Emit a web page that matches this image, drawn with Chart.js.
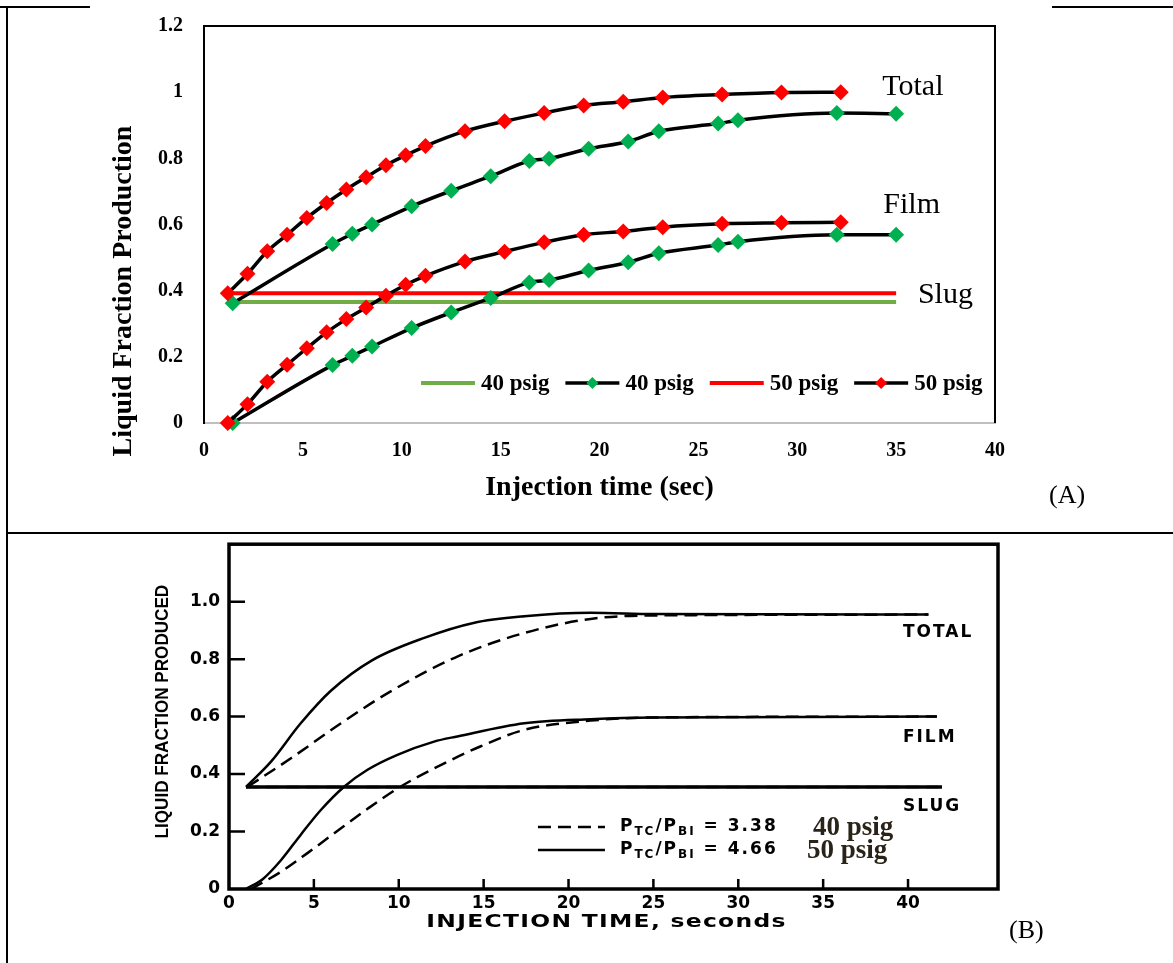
<!DOCTYPE html>
<html>
<head>
<meta charset="utf-8">
<script src="https://cdn.jsdelivr.net/npm/chart.js@4.4.1/dist/chart.umd.min.js"></script>
<style>
  body { margin: 0; background: #fff; }
  #page { position: relative; width: 1173px; height: 963px; overflow: hidden; font-family: 'Liberation Serif', 'Times New Roman', serif; }
  .rule { position: absolute; background: #000; }
  canvas { position: absolute; left: 0; }
  #chartA { top: 0; }
  #chartB { top: 534px; }
  .tag { position: absolute; font-size: 26px; line-height: 26px; color: #000; }
</style>
</head>
<body>
<div id="page">
  <div class="rule" style="left:6px;top:6px;width:2px;height:957px"></div>
  <div class="rule" style="left:0;top:6px;width:90px;height:2px"></div>
  <div class="rule" style="left:1052px;top:6px;width:121px;height:2px"></div>
  <div class="rule" style="left:6px;top:532px;width:1167px;height:2px"></div>
  <canvas id="chartA" width="1173" height="530"></canvas>
  <canvas id="chartB" width="1173" height="429"></canvas>
  <div class="tag" style="left:1049px;top:482px">(A)</div>
  <div class="tag" style="left:1009px;top:917px">(B)</div>
</div>

<script>
// ---------- panel A: replotted measurements ----------
const xTicksA = [0, 5, 10, 15, 20, 25, 30, 35, 40];
const yTicksA = [0, 0.2, 0.4, 0.6, 0.8, 1, 1.2];

// 50 psig
const redTime  = [1.2, 2.2, 3.2, 4.2, 5.2, 6.2, 7.2, 8.2, 9.2, 10.2, 11.2, 13.2, 15.2, 17.2, 19.2, 21.2, 23.2, 26.2, 29.2, 32.2];
const redTotal = [0.392, 0.451, 0.519, 0.569, 0.620, 0.665, 0.706, 0.743, 0.779, 0.809, 0.837, 0.882, 0.912, 0.937, 0.960, 0.971, 0.984, 0.993, 0.999, 1.0];
const redFilm  = [0, 0.057, 0.125, 0.176, 0.226, 0.274, 0.314, 0.349, 0.385, 0.418, 0.445, 0.488, 0.518, 0.546, 0.569, 0.579, 0.592, 0.602, 0.605, 0.607];
const redSlugTime = [1.2, 35];
const redSlug     = [0.392, 0.392];

// 40 psig
const greenTime  = [1.45, 6.5, 7.5, 8.5, 10.5, 12.5, 14.5, 16.45, 17.45, 19.45, 21.45, 23, 26, 27, 32, 35];
const greenTotal = [0.362, 0.541, 0.572, 0.600, 0.655, 0.702, 0.746, 0.792, 0.799, 0.829, 0.851, 0.882, 0.905, 0.915, 0.937, 0.935];
const greenFilm  = [0, 0.175, 0.203, 0.231, 0.287, 0.334, 0.378, 0.425, 0.432, 0.461, 0.486, 0.513, 0.538, 0.548, 0.569, 0.569];
const greenSlugTime = [1.45, 35];
const greenSlug     = [0.366, 0.366];

// ---------- panel B: original published curves ----------
const xTicksB = [0, 5, 10, 15, 20, 25, 30, 35, 40];
const yTicksB = [0, 0.2, 0.4, 0.6, 0.8, 1.0];

const total50Time = [1, 2.5, 4.2, 6, 8.4, 11.5, 14.4, 17.4, 21.3, 25, 41.2];
const total50     = [0.355, 0.445, 0.575, 0.69, 0.795, 0.874, 0.926, 0.949, 0.961, 0.957, 0.955];
const total40Time = [1.1, 3.65, 6.6, 9.5, 13.45, 17.4, 21.3, 25, 41.2];
const total40     = [0.356, 0.455, 0.577, 0.687, 0.809, 0.891, 0.94, 0.952, 0.955];
const film50Time  = [1, 2, 3.06, 4.24, 5.41, 6.78, 8.16, 9.92, 12.08, 13.45, 17.4, 21.3, 25, 41.7];
const film50      = [0, 0.035, 0.10, 0.19, 0.275, 0.356, 0.415, 0.467, 0.513, 0.531, 0.577, 0.591, 0.597, 0.60];
const film40Time  = [1.3, 3.06, 4.6, 6.2, 8.16, 10.1, 12.5, 14.8, 17.4, 21.3, 25, 41.7];
const film40      = [0, 0.06, 0.124, 0.194, 0.279, 0.356, 0.432, 0.496, 0.554, 0.586, 0.597, 0.60];
const slugTime = [1, 42];
const slugB    = [0.355, 0.355];

const GREEN = '#00B050';
const RED = '#FF0000';
const SLUG_GREEN = '#70AD47';
const serif = "'Liberation Serif', 'Times New Roman', serif";
const sans = "'DejaVu Sans', sans-serif";

const pts = (xs, ys) => xs.map((x, i) => ({ x, y: ys[i] }));

function markerSeries(label, xs, ys, color) {
    return {
        label, data: pts(xs, ys),
        borderColor: '#000', borderWidth: 3.5,
        pointStyle: 'rectRot', pointRadius: 8,
        pointBackgroundColor: color, pointBorderColor: color, pointBorderWidth: 0,
        cubicInterpolationMode: 'monotone', clip: false
    };
}

function plainLine(label, xs, ys, color) {
    return { label, data: pts(xs, ys), borderColor: color, borderWidth: 4, pointRadius: 0, clip: false };
}

function diamond(ctx, x, y, r, color) {
    ctx.fillStyle = color;
    ctx.beginPath();
    ctx.moveTo(x - r, y); ctx.lineTo(x, y - r); ctx.lineTo(x + r, y); ctx.lineTo(x, y + r);
    ctx.closePath();
    ctx.fill();
}

// box edges, rotated y title, curve names and the in-plot legend
const panelAExtras = {
    id: 'panelAExtras',
    afterDraw(chart) {
        const { ctx, chartArea: a, scales: { x, y } } = chart;
        ctx.save();
        ctx.strokeStyle = '#000';
        ctx.lineWidth = 2;
        ctx.beginPath();
        ctx.moveTo(a.left, a.top); ctx.lineTo(a.right, a.top); ctx.lineTo(a.right, a.bottom);
        ctx.stroke();

        ctx.fillStyle = '#000';
        ctx.save();
        ctx.font = `bold 28px ${serif}`;
        ctx.textAlign = 'center';
        ctx.textBaseline = 'middle';
        ctx.translate(a.left - 80, a.top + 265);
        ctx.rotate(-Math.PI / 2);
        ctx.fillText('Liquid Fraction Production', 0, 0);
        ctx.restore();

        ctx.font = `30px ${serif}`;
        ctx.textAlign = 'left';
        ctx.textBaseline = 'alphabetic';
        [['Total', 34.3, 0.99], ['Film', 34.35, 0.636], ['Slug', 36.1, 0.364]].forEach(([t, vx, vy]) => {
            ctx.fillText(t, x.getPixelForValue(vx), y.getPixelForValue(vy));
        });

        // legend: 40 psig slug, 40 psig curve, 50 psig slug, 50 psig curve
        const items = [[5, '40 psig'], [3, '40 psig'], [4, '50 psig'], [1, '50 psig']];
        let cx = a.left + 217;
        const cy = a.bottom - 40;
        ctx.font = `bold 23px ${serif}`;
        ctx.textBaseline = 'middle';
        items.forEach(([i, text]) => {
            const ds = chart.data.datasets[i];
            ctx.strokeStyle = ds.borderColor;
            ctx.lineWidth = ds.borderWidth;
            ctx.beginPath();
            ctx.moveTo(cx, cy); ctx.lineTo(cx + 54, cy);
            ctx.stroke();
            if (ds.pointRadius) diamond(ctx, cx + 27, cy, 6, ds.pointBackgroundColor);
            ctx.fillStyle = '#000';
            ctx.fillText(text, cx + 60, cy + 1);
            cx += 60 + ctx.measureText(text).width + 16;
        });
        ctx.restore();
    }
};

new Chart(document.getElementById('chartA'), {
    type: 'line',
    data: {
        datasets: [
            markerSeries('50 psig film', redTime, redFilm, RED),
            markerSeries('50 psig total', redTime, redTotal, RED),
            markerSeries('40 psig film', greenTime, greenFilm, GREEN),
            markerSeries('40 psig total', greenTime, greenTotal, GREEN),
            plainLine('50 psig slug', redSlugTime, redSlug, RED),
            plainLine('40 psig slug', greenSlugTime, greenSlug, SLUG_GREEN)
        ]
    },
    options: {
        responsive: false,
        animation: false,
        events: [],
        layout: { padding: { top: 26, right: 178, left: 0, bottom: 0 } },
        plugins: { legend: { display: false }, tooltip: { enabled: false } },
        scales: {
            x: {
                type: 'linear', min: 0, max: 40,
                afterBuildTicks: s => { s.ticks = xTicksA.map(v => ({ value: v })); },
                afterFit: s => { s.height = 107; },
                grid: { display: true, drawOnChartArea: false, drawTicks: false },
                border: { color: '#BFBFBF', width: 2 },
                ticks: { color: '#000', padding: 16, maxRotation: 0, autoSkip: false,
                         font: { family: serif, size: 20, weight: 'bold' } },
                title: { display: true, text: 'Injection time (sec)', color: '#000',
                         font: { family: serif, size: 28, weight: 'bold' }, padding: { top: 0, bottom: 25 } }
            },
            y: {
                type: 'linear', min: 0, max: 1.2,
                afterBuildTicks: s => { s.ticks = yTicksA.map(v => ({ value: v })); },
                afterFit: s => { s.width = 204; },
                // invisible tick marks hold the labels away from the axis
                grid: { display: true, drawOnChartArea: false, drawTicks: true, tickLength: 21, tickColor: 'rgba(0,0,0,0)' },
                border: { color: '#000', width: 2 },
                ticks: { color: '#000', padding: 0, callback: v => String(Math.round(v * 10) / 10),
                         font: { family: serif, size: 20, weight: 'bold' } }
            }
        }
    },
    plugins: [panelAExtras]
});

// ---------- panel B ----------
function traceB(label, xs, ys, dashed, width) {
    return {
        label, data: pts(xs, ys),
        borderColor: '#000', borderWidth: width || 2.5,
        borderDash: dashed ? [13, 7] : [],
        pointRadius: 0, cubicInterpolationMode: 'monotone', clip: false
    };
}

function drawRatio(ctx, x, y, value) {
    const big = `bold 17px ${sans}`, small = `bold 12px ${sans}`;
    const parts = [['P', big, 0], ['TC', small, 5], ['/', big, 0], ['P', big, 0], ['BI', small, 5], [' = ' + value, big, 0]];
    parts.forEach(([t, f, dy]) => {
        ctx.font = f;
        ctx.fillText(t, x, y + dy);
        x += ctx.measureText(t).width;
    });
    return x;
}

const panelBExtras = {
    id: 'panelBExtras',
    afterDraw(chart) {
        const { ctx, chartArea: a, scales: { x, y } } = chart;
        ctx.save();
        ctx.strokeStyle = '#000';
        ctx.fillStyle = '#000';
        ctx.lineWidth = 3.5;
        ctx.strokeRect(a.left, a.top, a.right - a.left, a.bottom - a.top);

        // tick marks point into the plot
        ctx.lineWidth = 2.5;
        ctx.beginPath();
        yTicksB.slice(1).forEach(v => {
            const py = y.getPixelForValue(v);
            ctx.moveTo(a.left, py); ctx.lineTo(a.left + 16, py);
        });
        xTicksB.slice(1).forEach(v => {
            const px = x.getPixelForValue(v);
            ctx.moveTo(px, a.bottom); ctx.lineTo(px, a.bottom - 10);
        });
        ctx.stroke();

        ctx.textBaseline = 'middle';
        ctx.save();
        ctx.font = `bold 19px 'Liberation Sans', sans-serif`;
        ctx.textAlign = 'center';
        ctx.translate(a.left - 66, (a.top + a.bottom) / 2 - 5);
        ctx.rotate(-Math.PI / 2);
        ctx.scale(0.9, 1);
        ctx.fillText('LIQUID FRACTION PRODUCED', 0, 0);
        ctx.restore();

        ctx.save();
        ctx.font = `bold 18px ${sans}`;
        ctx.letterSpacing = '1px';
        ctx.textAlign = 'center';
        ctx.translate((a.left + a.right) / 2 - 7, a.bottom + 33);
        ctx.scale(1.3, 1);
        ctx.fillText('INJECTION TIME, seconds', 0, 0);
        ctx.restore();

        ctx.font = `bold 17px ${sans}`;
        ctx.letterSpacing = '2px';
        ctx.textAlign = 'left';
        [['TOTAL', 0.892], ['FILM', 0.526], ['SLUG', 0.286]].forEach(([t, v]) => {
            ctx.fillText(t, x.getPixelForValue(39.7), y.getPixelForValue(v));
        });

        // legend rows: dashed = 40 psig, solid = 50 psig
        const rows = [[0, '3.38', '40 psig', 275], [1, '4.66', '50 psig', 269]];
        const lx = x.getPixelForValue(18.2);
        rows.forEach(([i, val, psig, psigAt], r) => {
            const ds = chart.data.datasets[i];
            const ly = y.getPixelForValue(0.216) + r * 23;
            ctx.lineWidth = ds.borderWidth;
            ctx.setLineDash(ds.borderDash);
            ctx.beginPath();
            ctx.moveTo(lx, ly); ctx.lineTo(lx + 67, ly);
            ctx.stroke();
            ctx.setLineDash([]);
            ctx.letterSpacing = '2px';
            drawRatio(ctx, lx + 82, ly, val);
            ctx.letterSpacing = '0px';
            ctx.font = `bold 27px ${serif}`;
            ctx.fillStyle = '#2a2418';
            ctx.fillText(psig, lx + psigAt, ly + 1);
            ctx.fillStyle = '#000';
        });
        ctx.restore();
    }
};

new Chart(document.getElementById('chartB'), {
    type: 'line',
    data: {
        datasets: [
            traceB('40 psig total', total40Time, total40, true),
            traceB('50 psig total', total50Time, total50, false),
            traceB('40 psig film', film40Time, film40, true),
            traceB('50 psig film', film50Time, film50, false),
            traceB('40 psig slug', slugTime, slugB, true),
            traceB('50 psig slug', slugTime, slugB, false, 3.5)
        ]
    },
    options: {
        responsive: false,
        animation: false,
        events: [],
        layout: { padding: { top: 9, right: 175, left: 0, bottom: 0 } },
        plugins: { legend: { display: false }, tooltip: { enabled: false } },
        scales: {
            x: {
                type: 'linear', min: 0, max: 45.3,
                afterBuildTicks: s => { s.ticks = xTicksB.map(v => ({ value: v })); },
                afterFit: s => { s.height = 74; },
                grid: { display: false, drawTicks: true, tickLength: 4 },
                border: { display: false },
                ticks: { color: '#000', padding: 0, maxRotation: 0, autoSkip: false,
                         font: { family: sans, size: 17, weight: 'bold' } }
            },
            y: {
                type: 'linear', min: 0, max: 1.2,
                afterBuildTicks: s => { s.ticks = yTicksB.map(v => ({ value: v })); },
                afterFit: s => { s.width = 229; },
                grid: { display: false, drawTicks: true, tickLength: 9 },
                border: { display: false },
                ticks: { color: '#000', padding: 0, callback: v => (v === 0 ? '0' : v.toFixed(1)),
                         font: { family: sans, size: 17, weight: 'bold' } }
            }
        }
    },
    plugins: [panelBExtras]
});
</script>
</body>
</html>
